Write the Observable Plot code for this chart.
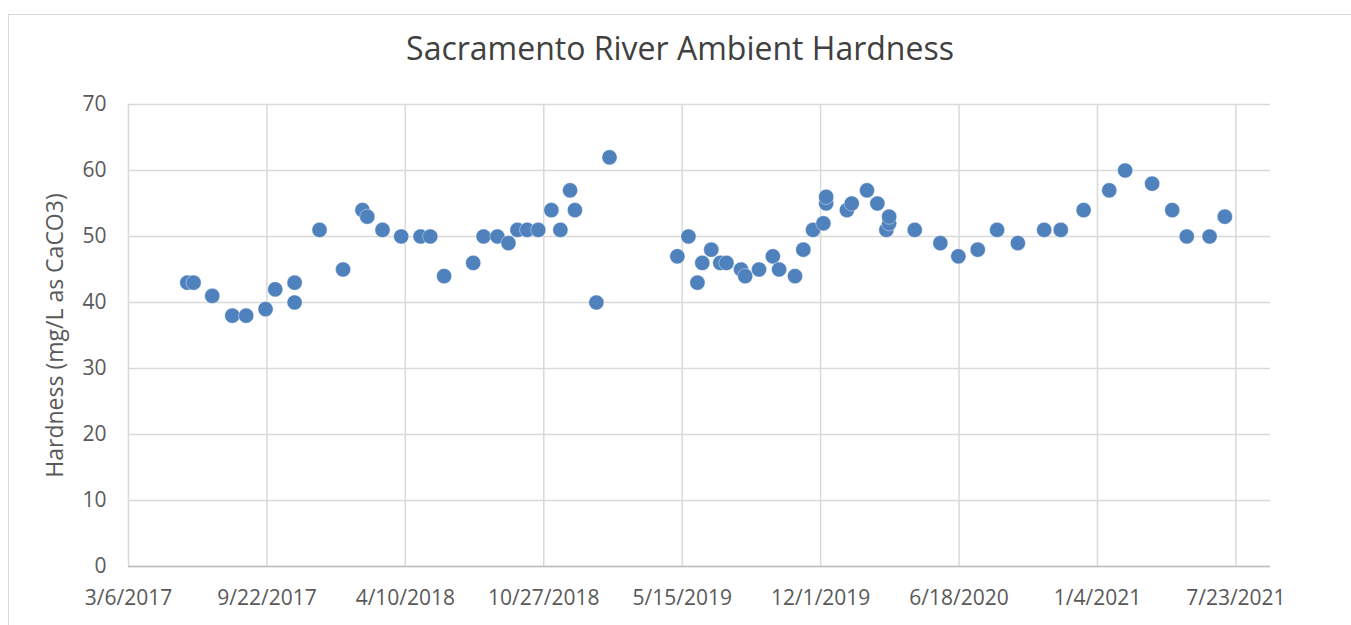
<!DOCTYPE html>
<html>
<head>
<meta charset="utf-8">
<script src="https://cdn.jsdelivr.net/npm/d3@7"></script>
<script src="https://cdn.jsdelivr.net/npm/@observablehq/plot@0.6"></script>
<style>
  html, body { margin: 0; padding: 0; background: #fff; }
  #wrap { position: relative; width: 1351px; height: 625px; overflow: hidden; font-family: "Open Sans", sans-serif; }
  #frame { position: absolute; left: 8px; top: 14px; width: 1400px; height: 700px; border: 1px solid #d9d9d9; box-sizing: border-box; }
  #title { position: absolute; left: 0; width: 1360px; top: 26px; text-align: center; font-size: 32px; line-height: 44px; color: #404040; }
  #chart { position: absolute; left: 0; top: 0; }
</style>
</head>
<body>
<div id="wrap">
  <div id="frame"></div>
  <div id="title">Sacramento River Ambient Hardness</div>
  <div id="chart"></div>
</div>
<script>
const dates = [
  "2017-05-30","2017-06-08","2017-07-05","2017-08-03","2017-08-23","2017-09-20","2017-10-04","2017-11-01","2017-11-01",
  "2017-12-07","2018-01-10","2018-02-07","2018-02-14","2018-03-08","2018-04-04","2018-05-02","2018-05-16","2018-06-05",
  "2018-07-17","2018-08-01","2018-08-21","2018-09-06","2018-09-19","2018-10-03","2018-10-19","2018-11-07","2018-11-20",
  "2018-12-04","2018-12-11","2019-01-11","2019-01-30",
  "2019-05-08","2019-05-24","2019-06-06","2019-06-13","2019-06-26","2019-07-09","2019-07-18","2019-08-08","2019-08-14",
  "2019-09-03","2019-09-23","2019-10-02","2019-10-25","2019-11-06","2019-11-20","2019-12-05","2019-12-09","2019-12-09",
  "2020-01-08","2020-01-15","2020-02-06","2020-02-21","2020-03-05","2020-03-09","2020-03-09","2020-04-15","2020-05-22",
  "2020-06-17","2020-07-15","2020-08-12","2020-09-11","2020-10-19","2020-11-12","2020-12-15","2021-01-21","2021-02-13",
  "2021-03-24","2021-04-22","2021-05-13","2021-06-15","2021-07-07"
];
const hardness = [
  43,43,41,38,38,39,42,43,40,
  51,45,54,53,51,50,50,50,44,
  46,50,50,49,51,51,51,54,51,
  57,54,40,62,
  47,50,43,46,48,46,46,45,44,
  45,47,45,44,48,51,52,55,56,
  54,55,57,55,51,52,53,51,49,
  47,48,51,49,51,51,54,57,60,
  58,54,50,50,53
];
const xTickDates = ["2017-03-06","2017-09-22","2018-04-10","2018-10-27","2019-05-15","2019-12-01","2020-06-18","2021-01-04","2021-07-23"];
const xDomain = ["2017-03-06","2021-09-11"];
const yTicks = [0,10,20,30,40,50,60,70];
const yLabel = "Hardness (mg/L as CaCO3)";

const data = dates.map((d, i) => ({date: new Date(d), value: hardness[i]}));
const xt = xTickDates.map(d => new Date(d));
const fmt = d => `${d.getUTCMonth() + 1}/${d.getUTCDate()}/${d.getUTCFullYear()}`;

const chart = Plot.plot({
  width: 1351,
  height: 625,
  marginLeft: 128,
  marginRight: 81,
  marginTop: 104,
  marginBottom: 59,
  style: {fontFamily: "Open Sans, sans-serif", fontSize: "21px", color: "#595959", background: "transparent"},
  x: {type: "utc", domain: xDomain.map(d => new Date(d)), ticks: xt, tickFormat: fmt, label: null},
  y: {domain: [0, 70], ticks: yTicks, label: null},
  marks: [
    Plot.gridX(xt, {stroke: "#d9d9d9", strokeOpacity: 1, strokeWidth: 1.5}),
    Plot.gridY(yTicks, {stroke: "#d9d9d9", strokeOpacity: 1, strokeWidth: 1.5}),
    Plot.ruleY([0], {stroke: "#bfbfbf", strokeWidth: 1.5}),
    Plot.axisX(xt, {tickFormat: fmt, tickSize: 0, tickPadding: 24, fontSize: 21, fill: "#595959", label: null}),
    Plot.axisY(yTicks, {tickSize: 0, tickPadding: 22, fontSize: 21, fill: "#595959", label: null}),
    Plot.axisY([], {tickSize: 0, fontSize: 23, fill: "#595959",
      label: yLabel, labelAnchor: "center", labelArrow: "none", labelOffset: 82}),
    Plot.dot(data, {x: "date", y: "value", r: 7.6, fill: "#4f81bd", stroke: "#ffffff", strokeWidth: 0.4})
  ]
});
document.getElementById("chart").appendChild(chart);
</script>
</body>
</html>
